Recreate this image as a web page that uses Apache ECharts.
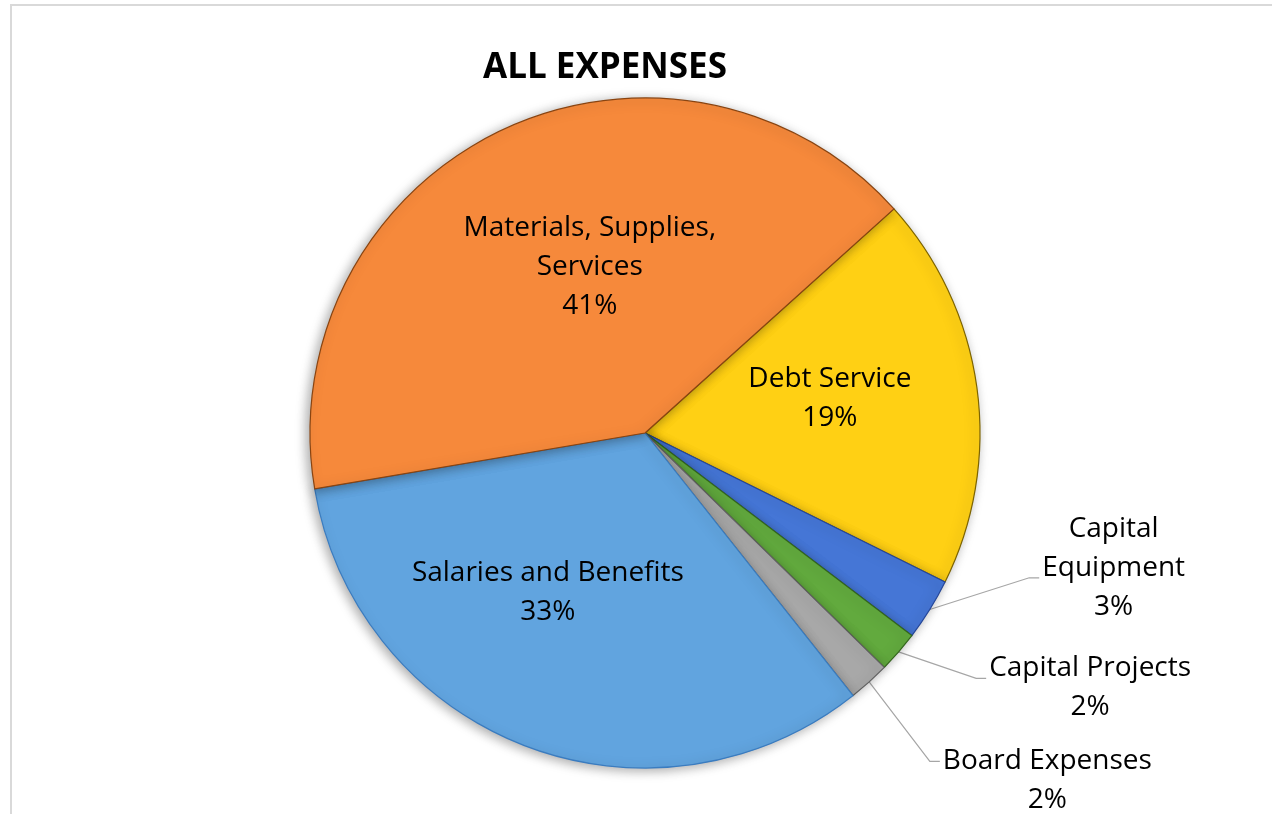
<!DOCTYPE html>
<html>
<head>
<meta charset="utf-8">
<style>
  html, body { margin: 0; padding: 0; background: #ffffff; }
  #chart { width: 1272px; height: 814px; }
</style>
<script src="https://cdn.jsdelivr.net/npm/echarts@6/dist/echarts.min.js"></script>
</head>
<body>
<div id="chart"></div>
<script>
// ---- data ----
const categories = ['Debt Service', 'Capital Equipment', 'Capital Projects', 'Board Expenses', 'Salaries and Benefits', 'Materials, Supplies, Services'];
const labelText = ['Debt Service', 'Capital\nEquipment', 'Capital Projects', 'Board Expenses', 'Salaries and Benefits', 'Materials, Supplies,\nServices'];
const values = [19, 3, 2, 2, 33, 41];
const insideFlags = [true, false, false, false, true, true];

// ---- styles ----
const colors = ['#FFD014', '#4576D6', '#62AA3E', '#A8A8A8', '#61A4DF', '#F6893B'];
const borderColors = ['#7d6400', '#25479a', '#33661c', '#606060', '#3a7cc0', '#8a4410'];
const labelOffsets = [[16, -11], [89, -47], [68, 29], [52, 91], [-36, 0], [19, -12]];
const stubShift = [0, 10, -9, -19, 0, 0];

const chart = echarts.init(document.getElementById('chart'));

const data = categories.map((name, i) => ({
  name: name,
  value: values[i],
  itemStyle: { color: colors[i], borderColor: borderColors[i], borderWidth: 1.2 },
  label: { position: insideFlags[i] ? 'inside' : 'outside' },
  labelLine: { show: !insideFlags[i] }
}));

function arcMidPoint(params) {
  if (params.labelLinePoints && params.labelLinePoints.length) {
    return params.labelLinePoints[0];
  }
  const lay = chart.getModel().getSeriesByIndex(0).getData().getItemLayout(params.dataIndex);
  const mid = (lay.startAngle + lay.endAngle) / 2;
  return [lay.cx + lay.r * Math.cos(mid), lay.cy + lay.r * Math.sin(mid)];
}

chart.setOption({
  animation: false,
  title: {
    text: 'ALL EXPENSES',
    left: 478,
    top: 46,
    textStyle: { fontFamily: 'Open Sans', fontWeight: 'bold', fontSize: 35, color: '#000000' }
  },
  graphic: [{
    type: 'rect',
    shape: { x: 11, y: 5, width: 1300, height: 900 },
    style: { fill: 'none', stroke: '#d9d9d9', lineWidth: 2 },
    silent: true
  }],
  series: [{
    type: 'pie',
    center: [645, 433],
    radius: [0, 335],
    startAngle: 42,
    clockwise: true,
    avoidLabelOverlap: false,
    itemStyle: {
      shadowBlur: 12,
      shadowColor: 'rgba(0,0,0,0.35)',
      shadowOffsetX: -3,
      shadowOffsetY: 2
    },
    label: {
      show: true,
      color: '#000000',
      fontFamily: 'Open Sans',
      fontSize: 28,
      lineHeight: 39,
      formatter: function (p) {
        return '{t|' + labelText[p.dataIndex] + '}\n{t|' + Math.round(p.percent) + '%}';
      },
      rich: {
        t: { align: 'center', fontFamily: 'Open Sans', fontSize: 28, lineHeight: 39, color: '#000000' }
      }
    },
    labelLine: {
      show: true,
      length: 10,
      length2: 10,
      lineStyle: { color: '#a6a6a6', width: 1.2 }
    },
    labelLayout: function (params) {
      const i = params.dataIndex;
      const o = labelOffsets[i];
      const res = { dx: o[0], dy: o[1] };
      if (!insideFlags[i]) {
        const r = params.labelRect;
        const left = r.x + o[0];
        const y = r.y + o[1] + r.height / 2 + stubShift[i];
        const p0 = arcMidPoint(params);
        res.labelLinePoints = [[p0[0], p0[1]], [left - 13, y], [left - 3, y]];
      }
      return res;
    },
    data: data
  }]
});
</script>
</body>
</html>
